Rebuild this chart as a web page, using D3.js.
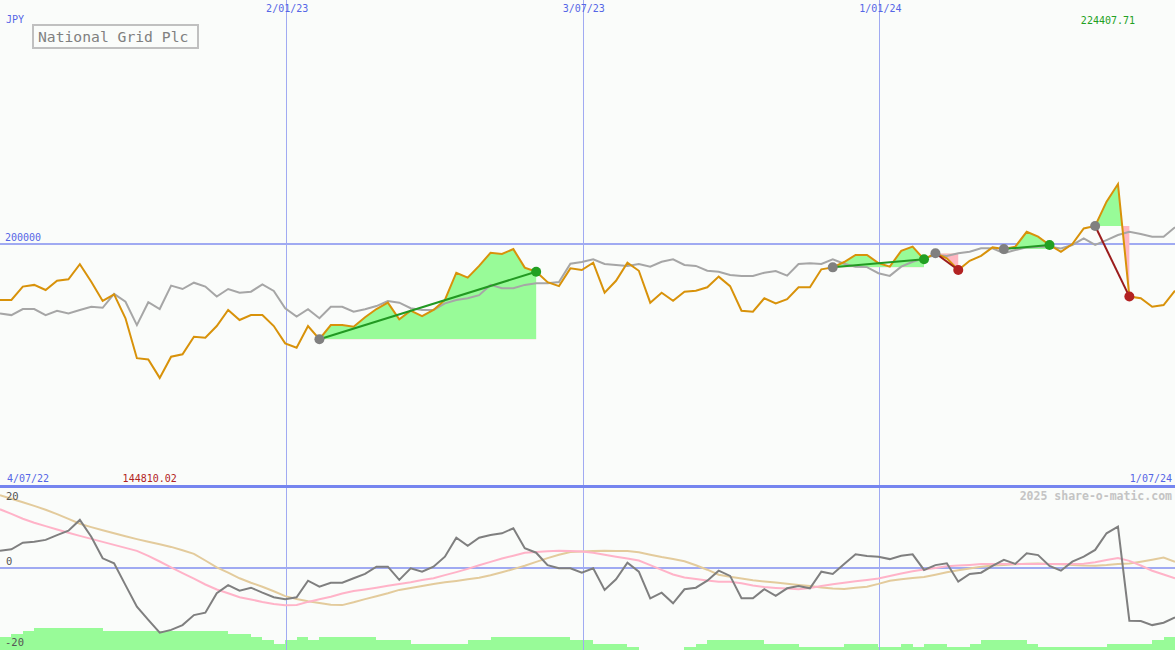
<!DOCTYPE html>
<html><head><meta charset="utf-8">
<script src="https://cdn.jsdelivr.net/npm/d3@7/dist/d3.min.js"></script>
<style>
html,body{margin:0;padding:0;background:#fafcfa;}
svg{display:block;}
text{font-family:"DejaVu Sans Mono","Liberation Mono",monospace;}
</style></head><body>
<svg id="chart" width="1175" height="650"></svg>
<script>
// ---------------- DATA ----------------
const startDate = "2022-07-11";           // first weekly observation
const currency = "JPY";
const title = "National Grid Plc";
const watermark = "2025 share-o-matic.com";

// weekly close, National Grid Plc (JPY)
const price = [176800,176800,182300,183000,180900,184700,185300,191500,184300,176400,
179100,169300,152900,152400,144810.02,153500,154500,161700,161300,166100,
172700,168600,170600,170600,166100,159000,157200,166100,160700,166500,
166500,165800,169700,173100,175700,168900,172400,170200,172700,176800,
188000,186000,190800,196200,195700,197700,190100,188400,184100,182500,
189800,189100,192100,179800,184700,192100,188800,175700,179800,176500,
180200,180600,182000,186400,182500,172400,172000,177500,175400,177100,
182000,182000,189400,190200,192400,195300,195300,192000,190500,197000,
198700,193500,196000,193900,189100,192900,194900,198400,197700,198700,
204800,202800,199400,196600,199800,206200,207200,217200,224407.71,178200,
177500,174000,174700,180600];

// comparison index (grey), same scale
const indexLine = [171300,170600,173100,173100,170600,172400,171300,172700,174000,173600,
179300,176100,166500,175900,173100,182700,181300,183900,182300,178200,
181300,179800,180200,183200,180500,173400,170000,173000,169300,174000,
174000,172000,173000,174300,176400,175700,173400,172700,172700,175400,
176800,177500,178800,183000,181600,181600,183000,183700,183700,184200,
191700,192400,193500,191600,191200,190800,191600,190500,192500,193500,
191200,190800,188800,188400,187100,186700,186700,188000,188700,186800,
191600,191900,191600,193500,191700,190500,190300,187800,186700,190500,
192500,193900,195300,194900,196000,196600,198000,198000,196000,197300,
198400,198700,198700,198000,199400,202100,199400,201400,203500,204800,
203900,202800,202800,206700];

// oscillator panel
const momentum = [4.2,4.55,6.2,6.45,6.9,8.1,9.2,11.9,7.7,2.3,
1.05,-4.4,-9.8,-13.1,-16.3,-15.6,-14.4,-11.9,-11.3,-6.45,
-4.4,-5.8,-5.05,-6.3,-7.45,-7.95,-7.45,-3.3,-4.8,-3.8,
-3.8,-2.7,-1.6,0.2,0.2,-3.1,-0.2,-1.05,0.2,2.7,
7.45,5.45,7.45,8.1,8.55,9.8,4.8,3.7,0.6,-0.2,
-0.2,-1.3,-0.2,-5.6,-2.95,1.2,-1.05,-7.7,-6.3,-8.95,
-5.45,-5.05,-3.3,-0.8,-2.1,-7.7,-7.7,-5.4,-7.1,-5.2,
-4.6,-5.2,-1.05,-1.6,0.9,3.3,2.9,2.7,2.1,2.95,
3.3,-0.6,0.6,1.05,-3.55,-1.6,-1.3,0.4,1.9,0.9,
3.55,3.1,0.4,-0.8,1.45,2.7,4.4,8.55,10.2,-13.3,
-13.4,-14.4,-13.8,-12.45];

const signalFast = [14.55,13.4,12.2,11.2,10.35,9.5,8.7,7.9,7.15,6.4,
5.65,4.9,4.15,2.9,1.5,0.05,-1.4,-2.8,-4.25,-5.5,
-6.45,-7.45,-8.0,-8.6,-9.1,-9.45,-9.35,-8.6,-7.95,-7.3,
-6.5,-5.9,-5.5,-5.05,-4.55,-4.1,-3.7,-3.15,-2.7,-1.9,
-1.15,-0.35,0.55,1.4,2.25,2.95,3.7,3.9,4.05,4.2,
4.1,4.0,3.7,3.2,2.7,2.25,1.75,0.6,-0.6,-1.75,
-2.5,-2.9,-3.25,-3.55,-3.55,-3.95,-4.5,-4.9,-5.1,-5.25,
-5.45,-5.1,-4.65,-4.2,-3.8,-3.45,-3.1,-2.75,-2.15,-1.5,
-0.95,-0.5,-0.1,0.3,0.5,0.65,0.85,0.9,0.9,0.9,
0.9,0.9,0.9,0.9,0.9,0.95,1.3,1.85,2.35,1.65,
0.5,-0.8,-1.75,-2.7];

const signalSlow = [18.1,17.2,16.3,15.4,14.45,13.35,12.15,10.95,10.1,9.3,
8.55,7.8,7.1,6.45,5.8,5.15,4.3,3.4,1.75,0.05,
-1.3,-2.7,-3.8,-4.8,-5.95,-7.15,-7.85,-8.45,-8.9,-9.3,
-9.4,-8.7,-7.9,-7.2,-6.45,-5.6,-5.1,-4.6,-4.1,-3.7,
-3.35,-2.95,-2.55,-1.95,-1.2,-0.4,0.45,1.4,2.35,3.2,
3.85,4.0,4.1,4.2,4.15,4.1,3.8,3.2,2.6,2.1,
1.55,0.55,-0.55,-1.8,-2.3,-2.75,-3.2,-3.5,-3.75,-4.05,
-4.35,-4.65,-5.0,-5.25,-5.35,-5.05,-4.8,-4.1,-3.3,-2.95,
-2.6,-2.35,-1.8,-1.2,-0.7,-0.25,0.2,0.5,0.65,0.8,
0.95,1.0,0.9,0.8,0.65,0.5,0.45,0.6,0.85,1.0,
1.45,1.95,2.5,1.45];

// volume level histogram
const volume = [4,5,6,7,7,7,7,7,7,6,
6,6,6,6,6,6,6,6,6,6,
5,5,4,3,2,3,4,3,4,4,
4,4,4,3,3,3,2,2,2,2,
2,3,3,4,4,4,4,4,4,4,
3,3,2,2,2,1,0,0,0,0,
1,2,3,3,3,3,3,2,2,2,
1,1,1,1,2,2,2,1,1,2,
1,2,2,1,1,2,3,3,3,3,
2,1,1,1,1,1,1,2,2,2,
2,3,4,4];

// trades (week indices)
const tradeEntry = [28, 73, 82, 88, 96];
const tradeExit  = [47, 81, 84, 92, 99];

// axis ticks / labels
const gridDates  = ["2023-01-02", "2023-07-03", "2024-01-01"];
const gridLabels = ["2/01/23", "3/07/23", "1/01/24"];
const edgeLabels = ["4/07/22", "1/07/24"];
const priceTicks = [200000];
const oscTicks   = [20, 0, -20];

// ---------------- CHART ----------------
const W = 1175, H = 650;
const mainBottom = 487;
const svg = d3.select("#chart");
const parse = d3.timeParse("%Y-%m-%d");
const t0 = parse(startDate);
const dates = price.map((_, i) => d3.timeDay.offset(t0, 7 * i));

const x = d3.scaleTime().domain([dates[0], dates[dates.length - 1]]).range([0, W]);
const y = d3.scaleLinear().domain([100000, 300000]).range([mainBottom, 0]);
const yo = d3.scaleLinear().domain([-20, 20]).range([647.5, 487.5]);
const yv = d3.scaleLinear().domain([0, 7]).range([H, H - 22.4]);

const gridColor = "#a0aaf2";
const fmt = d3.format(".2f");

svg.append("rect").attr("width", W).attr("height", H).attr("fill", "#fafcfa");

// volume histogram
svg.append("g").selectAll("rect").data(volume).join("rect")
  .attr("x", (d, i) => x(dates[i]))
  .attr("width", (d, i) => x(d3.timeDay.offset(dates[i], 7)) - x(dates[i]))
  .attr("y", d => yv(d))
  .attr("height", d => H - yv(d))
  .attr("fill", "#98fb98")
  .attr("shape-rendering", "crispEdges");

// grid
const grid = svg.append("g").attr("shape-rendering", "crispEdges");
grid.selectAll("line.v").data(gridDates).join("line")
  .attr("x1", d => Math.round(x(parse(d))) + 1.5).attr("x2", d => Math.round(x(parse(d))) + 1.5)
  .attr("y1", 0).attr("y2", H)
  .attr("stroke", gridColor).attr("stroke-width", 1.3);
grid.selectAll("line.h").data(priceTicks).join("line")
  .attr("x1", 0).attr("x2", W)
  .attr("y1", d => y(d)).attr("y2", d => y(d))
  .attr("stroke", gridColor).attr("stroke-width", 2);
grid.append("line").attr("x1", 0).attr("x2", W)
  .attr("y1", yo(0)).attr("y2", yo(0))
  .attr("stroke", gridColor).attr("stroke-width", 2);
grid.append("line").attr("x1", 0).attr("x2", W)
  .attr("y1", mainBottom - 0.5).attr("y2", mainBottom - 0.5)
  .attr("stroke", "#7585ef").attr("stroke-width", 2.5);

// trade fills
const defs = svg.append("defs");
const fills = svg.append("g");
tradeEntry.forEach((e, t) => {
  const xEnd = tradeExit[t];
  const base = price[e];
  const idx = d3.range(e, xEnd + 1);
  const area = d3.area()
    .x(i => x(dates[i]))
    .y0(y(base))
    .y1(i => y(price[i]));
  defs.append("clipPath").attr("id", "up" + t)
    .append("rect").attr("x", 0).attr("y", 0).attr("width", W).attr("height", y(base));
  defs.append("clipPath").attr("id", "dn" + t)
    .append("rect").attr("x", 0).attr("y", y(base)).attr("width", W).attr("height", mainBottom - y(base));
  fills.append("path").datum(idx).attr("d", area)
    .attr("fill", "#98fb98").attr("clip-path", `url(#up${t})`);
  fills.append("path").datum(idx).attr("d", area)
    .attr("fill", "#ffb6c1").attr("clip-path", `url(#dn${t})`);
});

// main lines
const line = arr => d3.line().x((d, i) => x(dates[i])).y(d => y(d))(arr);
svg.append("path").attr("d", line(indexLine))
  .attr("fill", "none").attr("stroke", "#a6a6a6").attr("stroke-width", 2);
svg.append("path").attr("d", line(price))
  .attr("fill", "none").attr("stroke", "#d8920a").attr("stroke-width", 2);

// oscillator lines
const oline = arr => d3.line().x((d, i) => x(dates[i])).y(d => yo(d))(arr);
svg.append("path").attr("d", oline(signalSlow))
  .attr("fill", "none").attr("stroke", "#e3cb9c").attr("stroke-width", 2);
svg.append("path").attr("d", oline(signalFast))
  .attr("fill", "none").attr("stroke", "#ffb3c8").attr("stroke-width", 2);
svg.append("path").attr("d", oline(momentum))
  .attr("fill", "none").attr("stroke", "#7f7f7f").attr("stroke-width", 2);

// trade lines & markers
const tg = svg.append("g");
tradeEntry.forEach((e, t) => {
  const xi = tradeExit[t];
  const win = price[xi] >= price[e];
  tg.append("line")
    .attr("x1", x(dates[e])).attr("y1", y(price[e]))
    .attr("x2", x(dates[xi])).attr("y2", y(price[xi]))
    .attr("stroke", win ? "#229922" : "#9b1c1c").attr("stroke-width", 2);
  tg.append("circle").attr("cx", x(dates[e])).attr("cy", y(price[e])).attr("r", 5)
    .attr("fill", "#808080");
  tg.append("circle").attr("cx", x(dates[xi])).attr("cy", y(price[xi])).attr("r", 5)
    .attr("fill", win ? "#22a022" : "#b22222");
});

// texts
const txt = (s, xx, yy, color, size, anchor, weight) =>
  svg.append("text").text(s).attr("x", xx).attr("y", yy)
    .attr("fill", color).attr("font-size", size)
    .attr("text-anchor", anchor || "start").attr("font-weight", weight || "normal");

txt(currency, 6, 23, "#5566e6", 10);
gridDates.forEach((d, i) => txt(gridLabels[i], x(parse(d)) + 2, 12, "#5566e6", 10, "middle"));
priceTicks.forEach(v => txt(d3.format("d")(v), 5, y(v) - 3, "#5566e6", 10));
txt(edgeLabels[0], 7, 482, "#5566e6", 10);
txt(edgeLabels[1], W - 3, 482, "#5566e6", 10, "end");

const iMax = d3.maxIndex(price), iMin = d3.minIndex(price);
txt(fmt(price[iMax]), x(dates[iMax]) - 10, 24, "#22a022", 10, "middle");
txt(fmt(price[iMin]), x(dates[iMin]) - 10, 482, "#b22222", 10, "middle");

// title box
svg.append("rect").attr("x", 33).attr("y", 25).attr("width", 165).attr("height", 23)
  .attr("fill", "#fafcfa").attr("stroke", "#c0c0c0").attr("stroke-width", 2);
txt(title, 38, 41.5, "#808080", 14.7);

txt(watermark, W - 3, 500, "#c4c4c4", 11.5, "end", "bold");

oscTicks.forEach(v => {
  const yy = v === 20 ? yo(v) + 12 : (v === 0 ? yo(v) - 3 : yo(v) - 2);
  txt(String(v), v < 0 ? 5 : 6, yy, "#555555", 10.5);
});
</script>
</body></html>
